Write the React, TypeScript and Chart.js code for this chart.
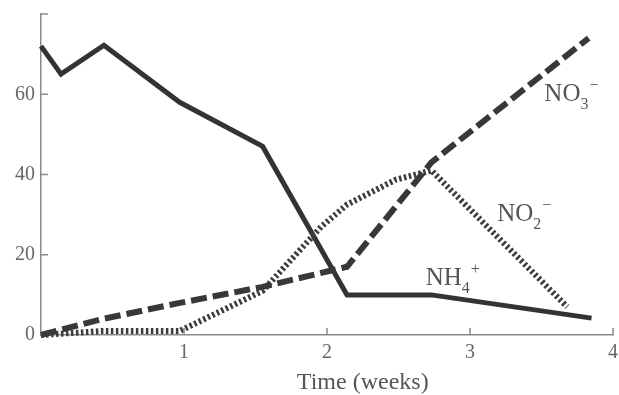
import React, { useEffect, useRef } from "react";
import { Chart, registerables } from "chart.js";

Chart.register(...registerables);

// ---- data (time in weeks, concentration) ----
const nh4Weeks = [0, 0.14, 0.44, 0.97, 1.55, 2.14, 2.73, 3.85];
const nh4Values = [72, 65, 72.2, 58, 47, 10, 10, 4.2];

const no3Weeks = [0, 0.43, 0.97, 1.55, 2.14, 2.73, 3.83];
const no3Values = [0, 4, 8, 12, 17, 43, 74];

const no2Weeks = [0, 0.43, 0.97, 1.55, 1.96, 2.14, 2.48, 2.73, 3.68];
const no2Values = [0, 1, 1, 11, 27, 32.5, 38.7, 41, 7];

const xTickLabels = [1, 2, 3, 4];
const yTickLabels = [0, 20, 40, 60];
const xTickMarks = [1, 2, 3, 4];
const yTickMarks = [20, 40, 60, 80];

const xAxisTitle = "Time (weeks)";
const seriesLabels = [
  { main: "NO", sub: "3", sup: "\u2212", x: 3.52, y: 58.2 },
  { main: "NO", sub: "2", sup: "\u2212", x: 3.19, y: 28.5 },
  { main: "NH", sub: "4", sup: "+", x: 2.69, y: 12.5 },
];

const FONT = '"Liberation Serif", "Times New Roman", serif';

const toXY = (xs: number[], ys: number[]) => xs.map((x, i) => ({ x, y: ys[i] }));

const decorPlugin = {
  id: "decor",
  afterDatasetsDraw(chart: any) {
    const { ctx, chartArea, scales } = chart;
    const xs = scales.x;
    const ys = scales.y;
    ctx.save();
    // inside tick marks
    ctx.strokeStyle = "#8a8a8a";
    ctx.lineWidth = 1.5;
    ctx.beginPath();
    yTickMarks.forEach((v) => {
      const py = ys.getPixelForValue(v);
      ctx.moveTo(chartArea.left, py);
      ctx.lineTo(chartArea.left + 7, py);
    });
    xTickMarks.forEach((v) => {
      const px = xs.getPixelForValue(v);
      ctx.moveTo(px, chartArea.bottom);
      ctx.lineTo(px, chartArea.bottom - 7);
    });
    ctx.stroke();

    // series labels
    ctx.fillStyle = "#555";
    ctx.textBaseline = "alphabetic";
    ctx.textAlign = "left";
    seriesLabels.forEach((l) => {
      let px = xs.getPixelForValue(l.x);
      const py = ys.getPixelForValue(l.y);
      ctx.font = `25px ${FONT}`;
      ctx.fillText(l.main, px, py);
      px += ctx.measureText(l.main).width;
      ctx.font = `16px ${FONT}`;
      ctx.fillText(l.sub, px, py + 8);
      px += ctx.measureText(l.sub).width + 1;
      ctx.fillText(l.sup, px, py - 11);
    });

    // axis title
    ctx.font = `24px ${FONT}`;
    ctx.textAlign = "center";
    ctx.fillStyle = "#555";
    ctx.fillText(xAxisTitle, xs.getPixelForValue(2.25), chartArea.bottom + 54);
    ctx.restore();
  },
};

export default function App() {
  const ref = useRef<HTMLCanvasElement | null>(null);
  useEffect(() => {
    if (!ref.current) return;
    const chart = new Chart(ref.current, {
      type: "line",
      data: {
        datasets: [
          {
            data: toXY(no2Weeks, no2Values),
            borderColor: "#3c3c3c",
            borderWidth: 6,
            borderDash: [2.5, 2.5],
            pointRadius: 0,
            tension: 0,
            clip: false as any,
          },
          {
            data: toXY(no3Weeks, no3Values),
            borderColor: "#383838",
            borderWidth: 6,
            borderDash: [16, 6],
            pointRadius: 0,
            tension: 0,
            clip: false as any,
          },
          {
            data: toXY(nh4Weeks, nh4Values),
            borderColor: "#333",
            borderWidth: 5,
            pointRadius: 0,
            tension: 0,
            borderJoinStyle: "miter",
            clip: false as any,
          },
        ],
      },
      options: {
        animation: false,
        responsive: false,
        maintainAspectRatio: false,
        layout: { padding: { top: 14, right: 6, left: 0, bottom: 0 } },
        plugins: { legend: { display: false }, tooltip: { enabled: false } },
        scales: {
          x: {
            type: "linear",
            min: 0,
            max: 4,
            grid: { display: false, drawTicks: false },
            border: { display: true, color: "#8a8a8a", width: 1.5 },
            afterBuildTicks: (s: any) => {
              s.ticks = xTickLabels.map((v) => ({ value: v }));
            },
            afterFit: (s: any) => {
              s.height = 60;
              s.paddingLeft = 0;
              s.paddingRight = 0;
            },
            ticks: { font: { family: FONT, size: 20 }, color: "#666", padding: 6 },
          },
          y: {
            type: "linear",
            min: 0,
            max: 80,
            grid: { display: false, drawTicks: false },
            border: { display: true, color: "#8a8a8a", width: 1.5 },
            afterBuildTicks: (s: any) => {
              s.ticks = yTickLabels.map((v) => ({ value: v }));
            },
            afterFit: (s: any) => {
              s.width = 41;
              s.paddingTop = 0;
              s.paddingBottom = 0;
            },
            ticks: { font: { family: FONT, size: 20 }, color: "#666", padding: 6 },
          },
        },
      },
      plugins: [decorPlugin],
    });
    return () => chart.destroy();
  }, []);
  return (
    <div style={{ position: "fixed", left: 0, top: 0, width: 619, height: 395, background: "#fff" }}>
      <canvas ref={ref} width={619} height={395} style={{ width: 619, height: 395 }} />
    </div>
  );
}
